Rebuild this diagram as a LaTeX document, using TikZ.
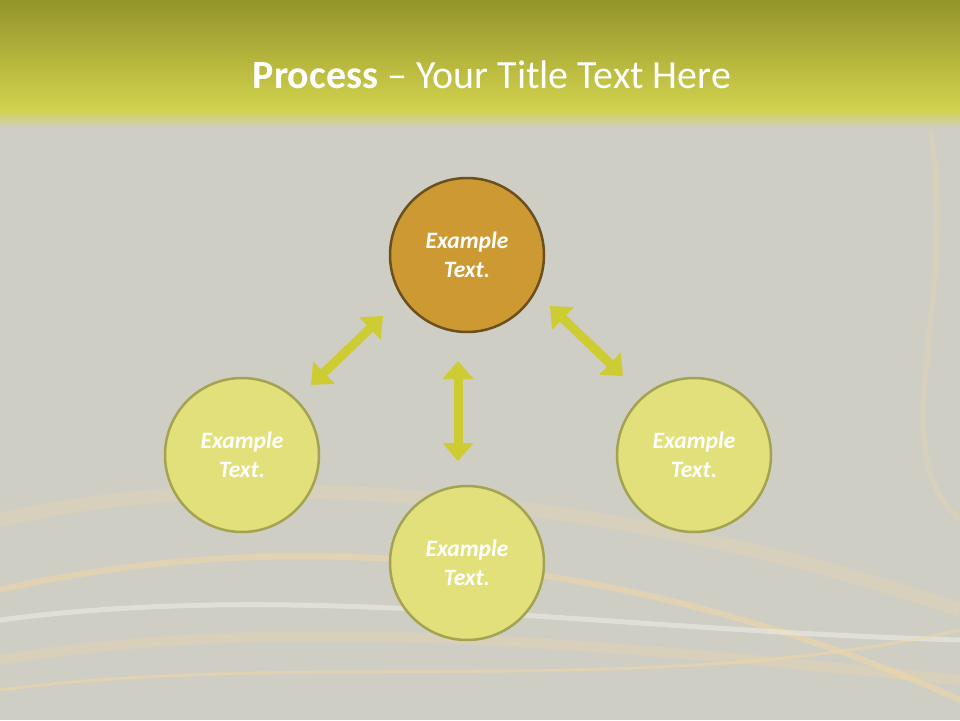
\documentclass[tikz,border=0pt]{standalone}
\usepackage{fontspec}
\setmainfont{Carlito}
\usetikzlibrary{arrows.meta}
\definecolor{bg}{HTML}{CFCEC4}
\definecolor{bandtop}{HTML}{93942A}
\definecolor{bandbot}{HTML}{D2D24E}
\definecolor{topfill}{HTML}{CD9933}
\definecolor{topedge}{HTML}{6B4F1F}
\definecolor{cfill}{HTML}{E2E07A}
\definecolor{cedge}{HTML}{A3A352}
\definecolor{arr}{HTML}{CDCC33}
\definecolor{glow}{HTML}{F5D9A0}
\tikzset{
  circ/.style={circle,minimum size=154pt,line width=2.5pt,draw=cedge,fill=cfill,text=white,font=\bfseries\itshape\fontsize{23.5}{29}\selectfont,align=center},
  topcirc/.style={circ,draw=topedge,fill=topfill},
  fatarrow/.style={arr,line width=9pt,{Triangle[length=18pt,width=30pt]}-{Triangle[length=18pt,width=30pt]}},
  swoosh/.style={glow,opacity=0.45,line width=#1}
}
\begin{document}
\begin{tikzpicture}[x=1pt,y=-1pt]
\useasboundingbox (0,0) rectangle (960,720);
\fill[bg] (0,0) rectangle (960,720);
\draw[swoosh=14pt,opacity=0.2] (0,520) .. controls (300,450) and (700,520) .. (960,610);
\draw[swoosh=6pt] (0,590) .. controls (300,520) and (650,560) .. (960,700);
\draw[swoosh=5pt,color=white,opacity=0.35] (0,620) .. controls (300,580) and (600,630) .. (960,640);
\draw[swoosh=3pt] (0,690) .. controls (300,650) and (650,700) .. (960,630);
\draw[swoosh=10pt,opacity=0.25] (0,660) .. controls (300,610) and (650,650) .. (960,680);
\draw[swoosh=5pt,opacity=0.25] (930,130) .. controls (960,300) and (880,450) .. (960,520);
\shade[top color=bandtop,bottom color=bandbot] (0,0) rectangle (960,110);
\shade[top color=bandbot,bottom color=bg] (0,110) rectangle (960,128);
\node[text=white,font=\fontsize{40}{48}\selectfont] (title) at (492,75) {\textbf{Process} -- Your Title Text Here};
\node[topcirc] (top) at (467,255) {Example\\Text.};
\node[circ] (left) at (242,455) {Example\\Text.};
\node[circ] (right) at (694,455) {Example\\Text.};
\node[circ] (bottom) at (467,563) {Example\\Text.};
\coordinate (la) at (311,385);
\coordinate (lb) at (383,316);
\coordinate (ra) at (550,306);
\coordinate (rb) at (623,376);
\coordinate (va) at (458,361);
\coordinate (vb) at (458,461);
\draw[fatarrow] (la) -- (lb);
\draw[fatarrow] (ra) -- (rb);
\draw[fatarrow] (va) -- (vb);
\end{tikzpicture}
\end{document}
